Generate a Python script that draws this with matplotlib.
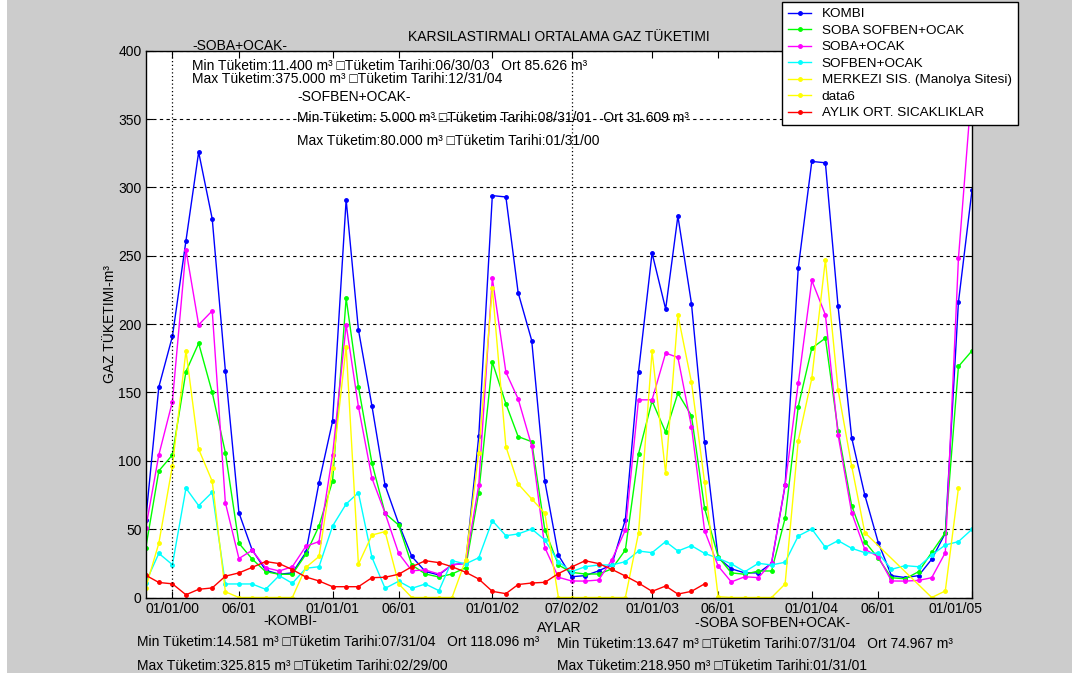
import numpy as np
import pandas as pd
import matplotlib
matplotlib.use("Agg")
import matplotlib.pyplot as plt
import matplotlib.transforms as mtransforms
from matplotlib.patches import Rectangle

plt.rcParams["font.family"] = ["Liberation Sans", "DejaVu Sans"]

# Monthly readings, month-end dates Oct 1999 .. Dec 2004
months = pd.date_range("1999-10-31", periods=63, freq="ME")

kombi = [56.7, 154, 191, 261, 325.815, 277, 166, 62, 35, 20,
         17, 18, 33, 84, 129, 291, 196, 140, 82, 54,
         30, 19, 16.5, 24, 25, 118, 294, 293, 223, 188,
         85, 31, 15.2, 16, 19.5, 24, 57, 165, 252, 211,
         279, 215, 114, 29, 21, 18, 18, 25, 82, 241,
         319, 318, 213, 117, 75, 40, 16, 14.581, 16, 28,
         47, 216, 298]

soba_sofben_ocak = [36, 92.6, 104.3, 165.3, 186, 150, 106, 39.7, 28.2, 18.9,
                    17, 17, 31.6, 52.3, 85.3, 218.95, 154.3, 98.2, 61.6, 53,
                    23.8, 17.2, 15, 17.2, 21.8, 76.7, 172.2, 141.7, 117.7, 114,
                    49.4, 23.8, 18.4, 17.2, 17.2, 20.9, 34.8, 105, 143.8, 121,
                    149.5, 133, 65.3, 29.9, 18, 17, 19.4, 19.4, 58, 139.7,
                    182.4, 189.7, 122, 67.2, 40.9, 28.7, 14.5, 13.647, 18.9, 33,
                    47.4, 169, 180.5]

soba_ocak = [50.6, 104.3, 143.3, 254.4, 199.5, 209.7, 69.4, 28.5, 34.5, 21.8,
             19.4, 22.5, 37.5, 40.9, 104.3, 199.5, 139.7, 87.2, 61.6, 32.3,
             19.6, 20.1, 17.2, 23.8, 25, 82.4, 233.7, 164.8, 145.3, 110.9,
             36.5, 14.8, 12.1, 12, 12.8, 27.5, 49.4, 144.6, 144.6, 178.8,
             175.6, 125, 48.9, 23, 11.4, 15.2, 14.5, 25.5, 82.4, 156.8,
             231.9, 206.8, 119, 62.1, 35.3, 29.9, 12.1, 12, 12.5, 14.5,
             32.8, 248, 375]

sofben_ocak = [10.9, 32.3, 24, 80, 67.2, 77, 9.9, 9.9, 9.9, 6,
               16, 10.4, 21.4, 22.5, 52.3, 68.4, 76.7, 29.3, 6.7, 11.9,
               6.7, 9.9, 5, 26.9, 24.6, 29.1, 56.2, 45.2, 46.5, 50.1,
               42.1, 26.2, 18.9, 22.5, 23.8, 23.8, 26.2, 34, 32.8, 40.9,
               34, 37.9, 32.3, 28.7, 24.6, 18.9, 25, 23.8, 25.8, 45,
               50.1, 36.7, 41.6, 36, 32.8, 32.3, 20.6, 23.3, 22.5, 31.1,
               38.4, 40.9, 49.9]

nan = np.nan
merkezi = [7, 39.7, 96.3, 180.5, 108.5, 85, 4.2, 0, 0, 0,
           0, 0, 22, 30, 95, 183.6, 24.3, 45.7, 48.2, 10,
           0, 0, 0, 0, 27.5, 106, 226.3, 110.4, 83.1, 72.1,
           61.6, 0, 0, 0, 0, 0, 0, 47, 180, 90.9,
           206.8, 157.5, 84.3, 0.6, 0, 0, 0, 0, 9.9, 114.8,
           160.4, 247, 151.9, 96.3, 47.5, nan, nan, nan, nan, 0,
           4.8, 80, nan]

data6 = []

# Monthly mean temperatures (available until Apr 2003)
sicaklik = [16.3, 11, 10, 2, 6, 7, 15.6, 18, 22, 26.3,
            24.8, 20.4, 15, 12.1, 7.9, 7.9, 7.9, 14.5, 14.8, 17,
            22.5, 26.9, 25.5, 22.5, 18.5, 13.5, 4.5, 2.8, 9.5, 10.6,
            11.1, 17.5, 22.3, 26.9, 24.8, 20.6, 15.7, 10.6, 4.5, 8.4,
            2.5, 4.5, 10]

tick_dates = ["1999-12-31", "2000-05-31", "2000-12-31", "2001-05-31",
              "2001-12-31", "2002-06-30", "2002-12-31", "2003-05-31",
              "2003-12-31", "2004-05-31", "2004-12-31"]
tick_labels = ["01/01/00", "06/01", "01/01/01", "06/01", "01/01/02",
               "07/02/02", "01/01/03", "06/01", "01/01/04", "06/01",
               "01/01/05"]
marker_dates = ["1999-12-31", "2002-06-30"]

series = [
    ("KOMBI", kombi, (0, 0, 1)),
    ("SOBA SOFBEN+OCAK", soba_sofben_ocak, (0, 1, 0)),
    ("SOBA+OCAK", soba_ocak, (1, 0, 1)),
    ("SOFBEN+OCAK", sofben_ocak, (0, 1, 1)),
    ("MERKEZI SIS. (Manolya Sitesi)", merkezi, (1, 1, 0)),
    ("data6", data6, (1, 1, 0)),
    ("AYLIK ORT. SICAKLIKLAR", sicaklik, (1, 0, 0)),
]

W, H = 1072, 676
fig = plt.figure(figsize=(W / 100, H / 100), dpi=100, facecolor="white")


def fx(x):
    return x / W


def fy(y):
    return 1 - y / H


# grey window area
fig.patches.append(Rectangle((fx(7), fy(673)), 1 - fx(7), fy(0) - fy(673),
                             transform=fig.transFigure, facecolor="#cccccc",
                             edgecolor="none", zorder=-10))

ax = fig.add_axes([fx(145.7), fy(597.5), fx(972) - fx(145.7), fy(50.7) - fy(597.5)])
ax.set_facecolor("white")

handles = []
for name, vals, col in series:
    y = np.asarray(vals, dtype=float)
    x = months[: len(y)]
    ok = ~np.isnan(y)
    ln, = ax.plot(x[ok], y[ok], color=col, lw=1.0, marker=".", ms=5,
                  label=name)
    handles.append(ln)

for d in marker_dates:
    ax.axvline(pd.Timestamp(d), color="black", lw=0.9, ls=(0, (1, 2)))

ax.set_xlim(months[0], months[-1])
ax.set_ylim(0, 400)
ax.set_yticks(np.arange(0, 401, 50))
ax.set_xticks([pd.Timestamp(d) for d in tick_dates])
ax.set_xticklabels(tick_labels)
ax.yaxis.grid(True, color="black", lw=0.8, ls=(0, (3, 3)))
ax.tick_params(direction="in", length=5, width=0.8, top=True, right=True,
               labelsize=10, pad=3)
for s in ax.spines.values():
    s.set_color("black")
    s.set_linewidth(1.0)

# keep the last date label inside the window edge
last_lbl = ax.get_xticklabels()[-1]
last_lbl.set_transform(last_lbl.get_transform() +
                       mtransforms.ScaledTranslation(-0.16, 0, fig.dpi_scale_trans))

ax.set_title("KARSILASTIRMALI ORTALAMA GAZ TÜKETIMI", fontsize=10, pad=7)
ax.set_ylabel("GAZ TÜKETIMI-m³", fontsize=10, labelpad=1)
ax.set_xlabel("AYLAR", fontsize=10, labelpad=4)

leg = fig.legend(handles=handles, loc="upper left",
                 bbox_to_anchor=(fx(782), fy(2)), bbox_transform=fig.transFigure,
                 fontsize=9.7, frameon=True, fancybox=False, framealpha=1,
                 edgecolor="black", handlelength=1.7, handletextpad=0.8,
                 borderpad=0.45, labelspacing=0.3, borderaxespad=0)
leg.get_frame().set_linewidth(1.0)

txt = dict(fontsize=10, color="black", va="baseline", ha="left")
fig.text(fx(192), fy(50), "-SOBA+OCAK-", **txt)
fig.text(fx(192), fy(70), "Min Tüketim:11.400 m³ □Tüketim Tarihi:06/30/03   Ort 85.626 m³", **txt)
fig.text(fx(192), fy(83), "Max Tüketim:375.000 m³ □Tüketim Tarihi:12/31/04", **txt)
fig.text(fx(297), fy(101), "-SOFBEN+OCAK-", **txt)
fig.text(fx(297), fy(122), "Min Tüketim: 5.000 m³ □Tüketim Tarihi:08/31/01   Ort 31.609 m³", **txt)
fig.text(fx(297), fy(145), "Max Tüketim:80.000 m³ □Tüketim Tarihi:01/31/00", **txt)

fig.text(fx(263), fy(625), "-KOMBI-", **txt)
fig.text(fx(137), fy(646), "Min Tüketim:14.581 m³ □Tüketim Tarihi:07/31/04   Ort 118.096 m³", **txt)
fig.text(fx(137), fy(670), "Max Tüketim:325.815 m³ □Tüketim Tarihi:02/29/00", **txt)
fig.text(fx(695), fy(627), "-SOBA SOFBEN+OCAK-", **txt)
fig.text(fx(557), fy(648), "Min Tüketim:13.647 m³ □Tüketim Tarihi:07/31/04   Ort 74.967 m³", **txt)
fig.text(fx(557), fy(670), "Max Tüketim:218.950 m³ □Tüketim Tarihi:01/31/01", **txt)

fig.savefig("out.png", dpi=100, facecolor=fig.get_facecolor())
